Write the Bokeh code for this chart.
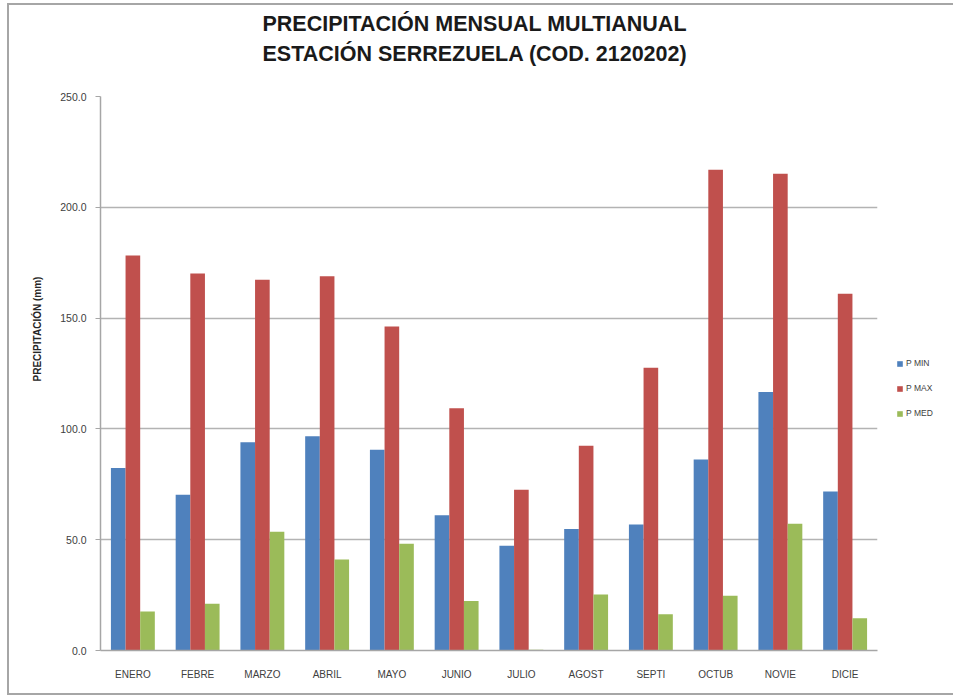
from bokeh.plotting import figure
from bokeh.models import ColumnDataSource, FactorRange, Legend, LegendItem, Title, NumeralTickFormatter, SingleIntervalTicker
from bokeh.transform import dodge
from bokeh.embed import file_html
from bokeh.resources import INLINE

months = ["ENERO", "FEBRE", "MARZO", "ABRIL", "MAYO", "JUNIO", "JULIO", "AGOST", "SEPTI", "OCTUB", "NOVIE", "DICIE"]
p_min = [82.4, 70.3, 94.0, 96.7, 90.6, 61.0, 47.3, 54.8, 56.9, 86.2, 116.6, 71.8]
p_max = [178.3, 170.1, 167.3, 168.9, 146.2, 109.3, 72.5, 92.4, 127.6, 216.9, 215.1, 161.0]
p_med = [17.6, 21.1, 53.6, 41.1, 48.2, 22.3, 0.3, 25.3, 16.4, 24.7, 57.2, 14.6]
series_names = ["P MIN", "P MAX", "P MED"]
colors = ["#4F81BD", "#C0504D", "#9BBB59"]
title_lines = ["PRECIPITACIÓN MENSUAL MULTIANUAL", "ESTACIÓN SERREZUELA (COD. 2120202)"]
y_label = "PRECIPITACIÓN (mm)"

src = ColumnDataSource(dict(month=months, pmin=p_min, pmax=p_max, pmed=p_med))

p = figure(x_range=FactorRange(*months, range_padding=0), y_range=(0, 250),
           frame_width=777, frame_height=554, output_backend="svg", toolbar_location=None,
           min_border_left=91, min_border_right=70, min_border_top=91, min_border_bottom=43)
p.title = None
p.styles = {"border-left": "2px solid #a6a6a6", "border-top": "2px solid #a6a6a6",
            "border-bottom": "2px solid #a6a6a6", "margin-left": "7px", "margin-top": "3px"}

bw = 0.226
renderers = []
for col, off, c in zip(["pmin", "pmax", "pmed"], [-bw, 0, bw], colors):
    r = p.vbar(x=dodge("month", off, range=p.x_range), top=col, width=bw, source=src,
               fill_color=c, line_color=None)
    renderers.append(r)

t = Title(text="\n".join(title_lines) + "\n\u00a0", align="left", offset=162,
          text_font="Liberation Sans", text_font_size="21.5px", text_font_style="bold",
          text_color="#1a1a1a", text_line_height=1.26, standoff=0)
p.add_layout(t, "above")

p.xgrid.grid_line_color = None
p.ygrid.grid_line_color = "#b3b3b3"
p.ygrid.grid_line_width = 1.5
p.outline_line_color = None

p.yaxis.ticker = SingleIntervalTicker(interval=50)
p.yaxis.formatter = NumeralTickFormatter(format="0.0")
p.yaxis.axis_line_color = "#a6a6a6"
p.yaxis.axis_line_width = 1.5
p.yaxis.major_tick_line_color = "#a6a6a6"
p.yaxis.major_tick_out = 5
p.yaxis.major_tick_in = 0
p.yaxis.minor_tick_line_color = None
p.yaxis.major_label_text_font = "Liberation Sans"
p.yaxis.major_label_text_font_size = "10.5px"
p.yaxis.major_label_text_color = "#404040"
p.yaxis.major_label_standoff = 9
p.yaxis.axis_label = "\u00a0" * 32 + y_label
p.yaxis.axis_label_text_font = "Liberation Sans"
p.yaxis.axis_label_text_font_size = "10px"
p.yaxis.axis_label_text_font_style = "bold"
p.yaxis.axis_label_text_color = "#262626"
p.yaxis.axis_label_standoff = 14

p.xaxis.axis_line_color = "#a6a6a6"
p.xaxis.axis_line_width = 1.5
p.xaxis.major_tick_line_color = None
p.xaxis.minor_tick_line_color = None
p.xaxis.major_label_text_font = "Liberation Sans"
p.xaxis.major_label_text_font_size = "10px"
p.xaxis.major_label_text_color = "#404040"
p.xaxis.major_label_standoff = 12

legend = Legend(items=[LegendItem(label=n, renderers=[r]) for n, r in zip(series_names, renderers)],
                location=(19, 232), glyph_width=7, glyph_height=7, label_height=7,
                spacing=15, label_text_font="Liberation Sans", label_text_font_size="8.5px",
                label_text_color="#404040", border_line_color=None, background_fill_alpha=0,
                margin=0, padding=0, label_standoff=3)
p.add_layout(legend, "right")

open("out.html", "w").write(file_html(p, INLINE))
